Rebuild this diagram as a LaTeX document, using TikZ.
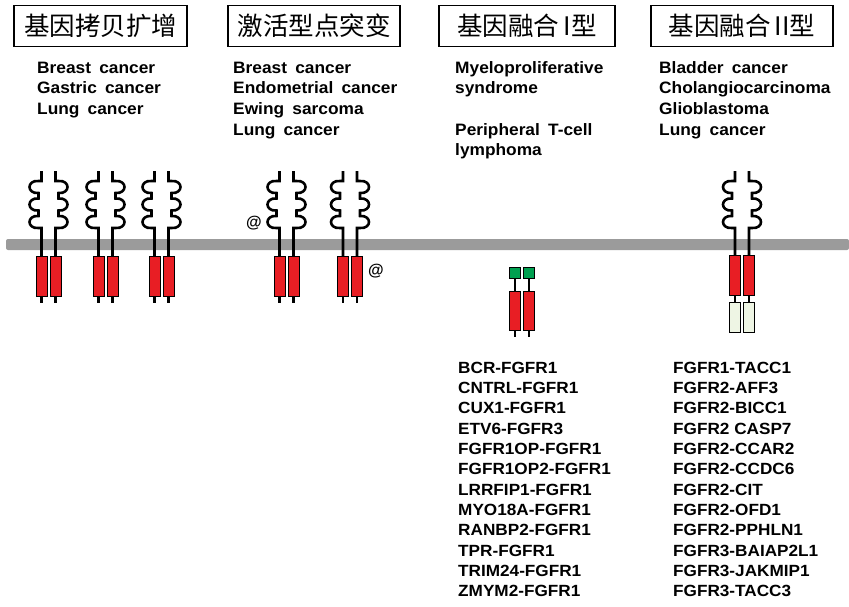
\documentclass[tikz,border=0pt]{standalone}
\usepackage{fontspec}
\setmainfont{Liberation Sans}
\newfontfamily\lbl[WordSpace=1.7,FakeStretch=1.05]{Liberation Sans}
\newfontfamily\fusfont[FakeStretch=1.06]{Liberation Sans}
\newfontfamily\cjk{Noto Sans CJK SC}
\usetikzlibrary{positioning}
\definecolor{kinred}{RGB}{232,30,36}
\definecolor{capgreen}{RGB}{0,160,80}
\definecolor{palecyt}{RGB}{238,245,228}
\definecolor{membgray}{RGB}{155,155,155}
\tikzset{
  chain/.style={line width=2.6pt},
  kinase/.style={draw=black, line width=0.8pt, fill=kinred},
  capbox/.style={draw=black, line width=0.8pt, fill=capgreen},
  tailbox/.style={draw=black, line width=0.8pt, fill=palecyt},
  titlebox/.style={draw=black, line width=1.1pt, minimum height=41pt, inner sep=0pt, font=\cjk\fontsize{25.5}{25.5}\selectfont},
  dis/.style={anchor=base west, inner sep=0pt, font=\lbl\bfseries\fontsize{16.5}{20}\selectfont},
  fus/.style={anchor=base west, inner sep=0pt, font=\fusfont\bfseries\fontsize{16.2}{20}\selectfont},
  phos/.style={inner sep=0pt, font=\bfseries\fontsize{16}{16}\selectfont},
  igloops/.pic={
    \draw[chain] (0,171) -- (0,181) -- (-3,181)
      .. controls (-15,180) and (-15,194) .. (-3,193) -- (-3,198.5)
      .. controls (-15,197.5) and (-15,211.5) .. (-3,210.5) -- (-3,216)
      .. controls (-15,215) and (-15,229) .. (-3,228) -- (0,228) -- (0,256);
  }
}
\begin{document}
\begin{tikzpicture}[x=1pt,y=-1pt]
\useasboundingbox (0,0) rectangle (849,606);
% titles
\node[titlebox, minimum width=173pt] (amp) at (100.5,26) {基因拷贝扩增};
\node[titlebox, minimum width=172pt] (mut) at (314,26) {激活型点突变};
\node[titlebox, minimum width=176pt] (fus1) at (527,26) {基因融合\,I型};
\node[titlebox, minimum width=182pt] (fus2) at (742,26) {基因融合\,II型};
% diseases
\foreach \t [count=\i] in {Breast cancer, Gastric cancer, Lung cancer}
  \node[dis] (da\i) at (37,{73+(\i-1)*20.7}) {\t};
\foreach \t [count=\i] in {Breast cancer, Endometrial cancer, Ewing sarcoma, Lung cancer}
  \node[dis] (dm\i) at (233,{73+(\i-1)*20.7}) {\t};
\foreach \t [count=\i] in {Myeloproliferative, syndrome, , Peripheral T-cell, lymphoma}
  \node[dis] (df\i) at (455,{73+(\i-1)*20.7}) {\t};
\foreach \t [count=\i] in {Bladder cancer, Cholangiocarcinoma, Glioblastoma, Lung cancer}
  \node[dis] (dg\i) at (659,{73+(\i-1)*20.7}) {\t};
% membrane
\fill[membgray, rounded corners=2pt] (6,239) rectangle (849,250);
% full receptors
\foreach \m in {48.5,105.5,161.5,286.5,350}{
  \pic at ({\m-7},0) {igloops};
  \pic[xscale=-1] at ({\m+7},0) {igloops};
  \draw[chain] ({\m-7},290) -- ({\m-7},303);
  \draw[chain] ({\m+7},290) -- ({\m+7},303);
  \draw[kinase] ({\m-12.5},256) rectangle ({\m-1.5},296);
  \draw[kinase] ({\m+1.5},256) rectangle ({\m+12.5},296);
}
\node[phos] (p1) at (254,223) {@};
\node[phos] (p2) at (376,271) {@};
% fusion type I
\draw[chain] (515,275) -- (515,337);
\draw[chain] (529,275) -- (529,337);
\draw[capbox] (509.5,267) rectangle (520.5,278);
\draw[capbox] (523.5,267) rectangle (534.5,278);
\draw[kinase] (509.5,291) rectangle (520.5,330);
\draw[kinase] (523.5,291) rectangle (534.5,330);
% fusion type II
\pic at (735,0) {igloops};
\pic[xscale=-1] at (749,0) {igloops};
\draw[chain] (735,290) -- (735,305);
\draw[chain] (749,290) -- (749,305);
\draw[kinase] (729.5,255) rectangle (740.5,295);
\draw[kinase] (743.5,255) rectangle (754.5,295);
\draw[tailbox] (729.5,302) rectangle (740.5,332);
\draw[tailbox] (743.5,302) rectangle (754.5,332);
% fusion partners
\foreach \t [count=\i] in {BCR-FGFR1, CNTRL-FGFR1, CUX1-FGFR1, ETV6-FGFR3, FGFR1OP-FGFR1,
  FGFR1OP2-FGFR1, LRRFIP1-FGFR1, MYO18A-FGFR1, RANBP2-FGFR1, TPR-FGFR1, TRIM24-FGFR1, ZMYM2-FGFR1}
  \node[fus] (pa\i) at (458,{373+(\i-1)*20.36}) {\t};
\foreach \t [count=\i] in {FGFR1-TACC1, FGFR2-AFF3, FGFR2-BICC1, FGFR2 CASP7, FGFR2-CCAR2,
  FGFR2-CCDC6, FGFR2-CIT, FGFR2-OFD1, FGFR2-PPHLN1, FGFR3-BAIAP2L1, FGFR3-JAKMIP1, FGFR3-TACC3}
  \node[fus] (pb\i) at (673,{373+(\i-1)*20.36}) {\t};
\end{tikzpicture}
\end{document}
